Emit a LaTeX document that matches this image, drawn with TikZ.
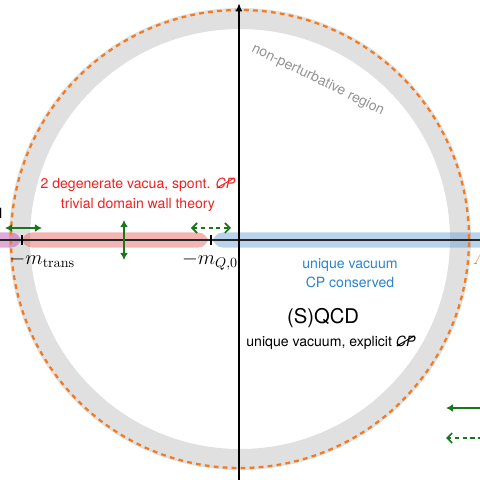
\documentclass[tikz,border=0pt]{standalone}
\usepackage{amsmath,amssymb}
\usepackage{graphicx}
\usepackage[no-math]{fontspec}
\setmainfont{TeX Gyre Heros}
\usepackage{tikz}
\usetikzlibrary{arrows.meta,calc}
\definecolor{cRing}{HTML}{E0E0E0}
\definecolor{cEdge}{HTML}{F57A1E}
\definecolor{cBroken}{HTML}{EE2222}
\definecolor{cUnique}{HTML}{2A85CC}
\definecolor{cFlow}{HTML}{17771A}
\definecolor{cBandR}{HTML}{E64444}
\definecolor{cBandB}{HTML}{5093D0}
\definecolor{cBandP}{HTML}{B42A9B}
\tikzset{
  band/.style={rounded corners=7, fill opacity=0.4, draw=none},
  txt/.style={align=center, inner sep=1pt, font=\normalsize},
  ml/.style={font=\Large, inner sep=1pt},
  flow/.style={{Latex[length=5pt,width=5.5pt]}-{Latex[length=5pt,width=5.5pt]}, line width=1.2pt, cFlow},
  flowd/.style={{Straight Barb[length=3.5pt,width=7pt]}-{Straight Barb[length=3.5pt,width=7pt]}, line width=1.2pt, cFlow, dash pattern=on 3pt off 2.5pt},
  tick/.style={line width=0.9pt},
}
\newcommand{\nocp}{\ooalign{\textit{CP}\cr\hidewidth\raisebox{0.05ex}{\rotatebox{30}{\rule{1.45em}{0.07em}}}\hidewidth\cr}}

\begin{document}
\begin{tikzpicture}[x=0.025cm, y=0.025cm]
  \clip (-240,-240) rectangle (240,240);
  \fill[white] (-240,-240) rectangle (240,240);

  % non-perturbative shell
  \fill[cRing, even odd rule] (0,1) circle (231) (0,1) circle (210);
  \node[txt, text=gray!85, rotate=-26] (np) at (78,160) {non-perturbative region};

  % bands along the real axis
  \fill[band, fill=cBandP] (-252,-7.5) rectangle (-219,7.5);
  \fill[band, fill=cBandR] (-218,-7.5) rectangle (-32,7.5);
  \fill[band, fill=cBandB] (-27,-7.5) rectangle (252,7.5);

  \draw[cEdge, line width=1.6pt, dash pattern=on 3.4pt off 3pt] (0,1) circle (229);

  % axes
  \coordinate (xl) at (-240,0);
  \coordinate (xr) at (240,0);
  \coordinate (yb) at (-1,-240);
  \coordinate (yt) at (-1,237);
  \draw[line width=0.8pt, black!85] (xl) -- (xr);
  \draw[line width=1.2pt, -{Latex[length=6pt,width=5pt]}] (yb) -- (yt);

  % ticks
  \coordinate (mtr) at (-218,0);
  \coordinate (mq) at (-29,0);
  \draw[tick] ($(mtr)+(0,-4.5)$) -- ($(mtr)+(0,4.5)$);
  \draw[tick] ($(mq)+(0,-4.5)$) -- ($(mq)+(0,4.5)$);
  \node[ml, anchor=north west] (lmtr) at (-232,-11) {$-m_{\mathrm{trans}}$};
  \node[ml, anchor=north] (lmq) at (-30,-11) {$-m_{Q,0}$};
  \node[txt, anchor=east] (lM) at (-236,27) {M};
  \node[ml, anchor=west, text=cEdge] (lL) at (231,-18) {$\mathit{\Lambda}$};

  % flows
  \coordinate (a1) at (-235,12);
  \coordinate (a2) at (-198,12);
  \coordinate (v1) at (-116,20);
  \coordinate (v2) at (-116,-20);
  \coordinate (d1) at (-49,12);
  \coordinate (d2) at (-9,12);
  \draw[flow] (a1) -- (a2);
  \draw[flow] (v1) -- (v2);
  \draw[flowd] (d1) -- (d2);

  % legend arrows
  \coordinate (s1) at (250,-168);
  \coordinate (s2) at (206,-168);
  \coordinate (t1) at (250,-198);
  \coordinate (t2) at (206,-198);
  \draw[line width=1.2pt, cFlow, -{Latex[length=5pt,width=5.5pt]}] (s1) -- (s2);
  \draw[line width=1.2pt, cFlow, dash pattern=on 3pt off 2.5pt, -{Straight Barb[length=3.5pt,width=7pt]}] (t1) -- (t2);

  % phases
  \node[txt, text=cBroken] (deg) at (-102,45)
    {2 degenerate vacua, spont. \nocp\\[2pt] trivial domain wall theory};
  \node[txt, text=cUnique] (uniq) at (110,-33)
    {unique vacuum\\[2pt] CP conserved};
  \node[txt, font=\Large] (sqcd) at (83,-78) {(S)QCD};
  \node[txt] (expl) at (91,-103) {unique vacuum, explicit \nocp};
\end{tikzpicture}
\end{document}
